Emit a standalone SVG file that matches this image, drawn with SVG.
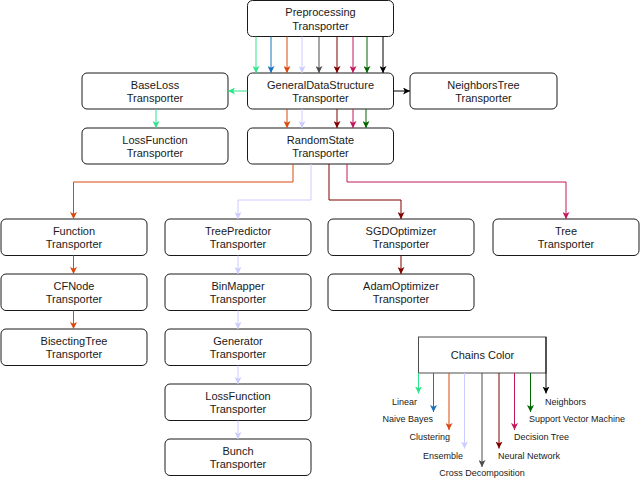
<svg xmlns="http://www.w3.org/2000/svg" width="640" height="478" viewBox="0 0 640 478">
<style>
.n rect{fill:#fff;stroke:#1a1a1a;stroke-width:1}
.n text,.lg text{font-family:"Liberation Sans",Arial,sans-serif;font-size:11px;fill:#1a1a1a;text-anchor:middle}
.lg .l{font-size:9px}
.e path{fill:none;stroke-width:1}
.g{stroke:#2FE38A}.b{stroke:#1A73B8}.o{stroke:#D9480F}.v{stroke:#CCCCFF}.k{stroke:#4D4D4D}.r{stroke:#800000}.c{stroke:#C2185B}.d{stroke:#006600}.x{stroke:#000}
</style>
<defs>
<marker id="mg" viewBox="0 0 8 8" refX="8" refY="4" markerWidth="7" markerHeight="7" markerUnits="userSpaceOnUse" orient="auto"><path d="M0,0L8,4L0,8L2,4z" fill="#2FE38A"/></marker>
<marker id="mb" viewBox="0 0 8 8" refX="8" refY="4" markerWidth="7" markerHeight="7" markerUnits="userSpaceOnUse" orient="auto"><path d="M0,0L8,4L0,8L2,4z" fill="#1A73B8"/></marker>
<marker id="mo" viewBox="0 0 8 8" refX="8" refY="4" markerWidth="7" markerHeight="7" markerUnits="userSpaceOnUse" orient="auto"><path d="M0,0L8,4L0,8L2,4z" fill="#D9480F"/></marker>
<marker id="mv" viewBox="0 0 8 8" refX="8" refY="4" markerWidth="7" markerHeight="7" markerUnits="userSpaceOnUse" orient="auto"><path d="M0,0L8,4L0,8L2,4z" fill="#CCCCFF"/></marker>
<marker id="mk" viewBox="0 0 8 8" refX="8" refY="4" markerWidth="7" markerHeight="7" markerUnits="userSpaceOnUse" orient="auto"><path d="M0,0L8,4L0,8L2,4z" fill="#4D4D4D"/></marker>
<marker id="mr" viewBox="0 0 8 8" refX="8" refY="4" markerWidth="7" markerHeight="7" markerUnits="userSpaceOnUse" orient="auto"><path d="M0,0L8,4L0,8L2,4z" fill="#800000"/></marker>
<marker id="mc" viewBox="0 0 8 8" refX="8" refY="4" markerWidth="7" markerHeight="7" markerUnits="userSpaceOnUse" orient="auto"><path d="M0,0L8,4L0,8L2,4z" fill="#C2185B"/></marker>
<marker id="md" viewBox="0 0 8 8" refX="8" refY="4" markerWidth="7" markerHeight="7" markerUnits="userSpaceOnUse" orient="auto"><path d="M0,0L8,4L0,8L2,4z" fill="#006600"/></marker>
<marker id="mx" viewBox="0 0 8 8" refX="8" refY="4" markerWidth="7" markerHeight="7" markerUnits="userSpaceOnUse" orient="auto"><path d="M0,0L8,4L0,8L2,4z" fill="#000"/></marker>
</defs>

<g id="preprocessing" class="n"><rect x="247.5" y="0.5" width="146" height="36" rx="5"/><text x="320.5" y="16">Preprocessing</text><text x="320.5" y="29.5">Transporter</text></g>
<g id="generaldatastructure" class="n"><rect x="247.5" y="73" width="146" height="36" rx="5"/><text x="320.5" y="88.5">GeneralDataStructure</text><text x="320.5" y="102">Transporter</text></g>
<g id="baseloss" class="n"><rect x="82" y="73" width="146" height="36" rx="5"/><text x="155" y="88.5">BaseLoss</text><text x="155" y="102">Transporter</text></g>
<g id="neighborstree" class="n"><rect x="410" y="73" width="147" height="36" rx="5"/><text x="483.5" y="88.5">NeighborsTree</text><text x="483.5" y="102">Transporter</text></g>
<g id="lossfunction1" class="n"><rect x="82" y="128" width="146" height="36" rx="5"/><text x="155" y="143.5">LossFunction</text><text x="155" y="157">Transporter</text></g>
<g id="randomstate" class="n"><rect x="247.5" y="128" width="146" height="36" rx="5"/><text x="320.5" y="143.5">RandomState</text><text x="320.5" y="157">Transporter</text></g>

<g id="function" class="n"><rect x="1" y="219" width="146" height="36.5" rx="5"/><text x="74" y="234.5">Function</text><text x="74" y="248">Transporter</text></g>
<g id="cfnode" class="n"><rect x="1" y="274" width="146" height="36.5" rx="5"/><text x="74" y="289.5">CFNode</text><text x="74" y="303">Transporter</text></g>
<g id="bisectingtree" class="n"><rect x="1" y="329" width="146" height="36.5" rx="5"/><text x="74" y="344.5">BisectingTree</text><text x="74" y="358">Transporter</text></g>

<g id="treepredictor" class="n"><rect x="165" y="219" width="146" height="36.5" rx="5"/><text x="238" y="234.5">TreePredictor</text><text x="238" y="248">Transporter</text></g>
<g id="binmapper" class="n"><rect x="165" y="274" width="146" height="36.5" rx="5"/><text x="238" y="289.5">BinMapper</text><text x="238" y="303">Transporter</text></g>
<g id="generator" class="n"><rect x="165" y="329" width="146" height="36.5" rx="5"/><text x="238" y="344.5">Generator</text><text x="238" y="358">Transporter</text></g>
<g id="lossfunction2" class="n"><rect x="165" y="384" width="146" height="36.5" rx="5"/><text x="238" y="399.5">LossFunction</text><text x="238" y="413">Transporter</text></g>
<g id="bunch" class="n"><rect x="165" y="439" width="146" height="36.5" rx="5"/><text x="238" y="454.5">Bunch</text><text x="238" y="468">Transporter</text></g>

<g id="sgdoptimizer" class="n"><rect x="328" y="219" width="146" height="36.5" rx="5"/><text x="401" y="234.5">SGDOptimizer</text><text x="401" y="248">Transporter</text></g>
<g id="adamoptimizer" class="n"><rect x="328" y="274" width="146" height="36.5" rx="5"/><text x="401" y="289.5">AdamOptimizer</text><text x="401" y="303">Transporter</text></g>
<g id="tree" class="n"><rect x="493" y="219" width="146" height="36.5" rx="5"/><text x="566" y="234.5">Tree</text><text x="566" y="248">Transporter</text></g>

<g id="connectors" class="e">
<path class="g" d="M256,36.5V73" marker-end="url(#mg)"/>
<path class="b" d="M271,36.5V73" marker-end="url(#mb)"/>
<path class="o" d="M287,36.5V73" marker-end="url(#mo)"/>
<path class="v" d="M302,36.5V73" marker-end="url(#mv)"/>
<path class="k" d="M319,36.5V73" marker-end="url(#mk)"/>
<path class="r" d="M337,36.5V73" marker-end="url(#mr)"/>
<path class="c" d="M353,36.5V73" marker-end="url(#mc)"/>
<path class="d" d="M367,36.5V73" marker-end="url(#md)"/>
<path class="x" d="M383,36.5V73" marker-end="url(#mx)"/>
<path class="g" d="M247.5,91H228" marker-end="url(#mg)"/>
<path class="x" d="M393.5,91H410" marker-end="url(#mx)"/>
<path class="g" d="M156,109V128" marker-end="url(#mg)"/>
<path class="o" d="M287,109V128" marker-end="url(#mo)"/>
<path class="v" d="M302,109V128" marker-end="url(#mv)"/>
<path class="r" d="M337,109V128" marker-end="url(#mr)"/>
<path class="c" d="M353,109V128" marker-end="url(#mc)"/>
<path class="d" d="M366,109V128" marker-end="url(#md)"/>
<path class="o" d="M293,164V182H73.5V219" marker-end="url(#mo)"/>
<path class="v" d="M311,164V200H238V219" marker-end="url(#mv)"/>
<path class="r" d="M329,164V200H401V219" marker-end="url(#mr)"/>
<path class="c" d="M347,164V182H566V219" marker-end="url(#mc)"/>
<path class="o" d="M73.5,255.5V274" marker-end="url(#mo)"/>
<path class="o" d="M73.5,310.5V329" marker-end="url(#mo)"/>
<path class="v" d="M238,255.5V274" marker-end="url(#mv)"/>
<path class="v" d="M238,310.5V329" marker-end="url(#mv)"/>
<path class="v" d="M238,365.5V384" marker-end="url(#mv)"/>
<path class="v" d="M238,420.5V439" marker-end="url(#mv)"/>
<path class="r" d="M401,255.5V274" marker-end="url(#mr)"/>
</g>

<g id="legend" class="lg">
<rect x="418.5" y="337" width="127.5" height="36" fill="#fff" stroke="#4D4D4D" stroke-width="1"/>
<text x="482.5" y="359">Chains Color</text>
<g class="e">
<path class="g" d="M418.5,373V393.5" marker-end="url(#mg)"/>
<path class="b" d="M433.5,373V412" marker-end="url(#mb)"/>
<path class="o" d="M449,373V430" marker-end="url(#mo)"/>
<path class="v" d="M464.5,373V448.5" marker-end="url(#mv)"/>
<path class="k" d="M482,373V467" marker-end="url(#mk)"/>
<path class="r" d="M499,373V448.5" marker-end="url(#mr)"/>
<path class="c" d="M514.5,373V430" marker-end="url(#mc)"/>
<path class="d" d="M530.5,373V412" marker-end="url(#md)"/>
<path class="x" d="M546,337V393.5" marker-end="url(#mx)"/>
</g>
<text class="l" x="417" y="404.5" style="text-anchor:end">Linear</text>
<text class="l" x="433" y="422" style="text-anchor:end">Naive Bayes</text>
<text class="l" x="450" y="440" style="text-anchor:end">Clustering</text>
<text class="l" x="463" y="459" style="text-anchor:end">Ensemble</text>
<text class="l" x="482" y="476">Cross Decomposition</text>
<text class="l" x="498" y="459" style="text-anchor:start">Neural Network</text>
<text class="l" x="514" y="440" style="text-anchor:start">Decision Tree</text>
<text class="l" x="529" y="422" style="text-anchor:start">Support Vector Machine</text>
<text class="l" x="545" y="404.5" style="text-anchor:start">Neighbors</text>
</g>
</svg>
